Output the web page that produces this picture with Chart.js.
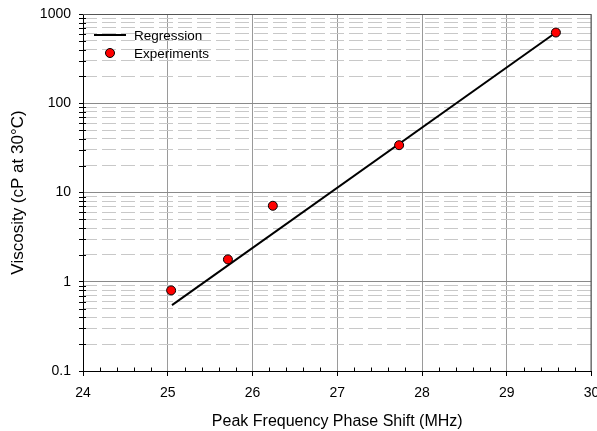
<!DOCTYPE html>
<html>
<head>
<meta charset="utf-8">
<script src="https://cdn.jsdelivr.net/npm/chart.js@4.4.1/dist/chart.umd.min.js"></script>
<style>
  html, body { margin: 0; padding: 0; background: #fff; }
  #wrap { width: 597px; height: 431px; }
</style>
</head>
<body>
<div id="wrap"><canvas id="chart" width="597" height="431"></canvas></div>
<script>
const expX = [25.04, 25.71, 26.24, 27.73, 29.58];
const expY = [0.80, 1.78, 7.1, 33.9, 620];

// regression line (straight on the log axis), its two ends
const regX = [25.05, 29.58];
const regY = [0.548, 620];

// axis ticks
const xTicks = [24, 25, 26, 27, 28, 29, 30];
const yTicks = [0.1, 1, 10, 100, 1000];
const yMinorSteps = [2, 3, 4, 5, 6, 7, 8, 9];

const legendLabels = ["Regression", "Experiments"];

Chart.defaults.font.family = '"Liberation Sans", Arial, sans-serif';
Chart.defaults.color = "#000";

const tickFont = { size: 14 };

// minor y values (2..9 in every decade), used by the dashed grid axis
function minorY() {
  const out = [];
  yTicks.slice(0, -1).forEach((d) => {
    yMinorSteps.forEach((m) => out.push({ value: d * m }));
  });
  return out;
}

// frame, small inner ticks and the legend box
const extras = {
  id: "extras",
  afterDraw(chart) {
    const { ctx, chartArea: a, scales } = chart;
    const x = scales.x;
    const y2 = scales.y2;
    ctx.save();

    // top / right frame
    ctx.strokeStyle = "#555";
    ctx.lineWidth = 1;
    ctx.beginPath();
    ctx.moveTo(a.left, a.top + 0.5);
    ctx.lineTo(a.right - 0.5, a.top + 0.5);
    ctx.lineTo(a.right - 0.5, a.bottom);
    ctx.stroke();

    // minor ticks on the y axis
    ctx.strokeStyle = "#000";
    ctx.beginPath();
    y2.ticks.forEach((t) => {
      const py = Math.round(y2.getPixelForValue(t.value)) + 0.5;
      ctx.moveTo(a.left - 4, py);
      ctx.lineTo(a.left + 3, py);
    });
    // minor ticks on the x axis, every 0.2
    for (let v = x.min; v < x.max; v += 0.2) {
      if (Math.abs(v - Math.round(v)) < 1e-6) continue;
      const px = Math.round(x.getPixelForValue(v)) + 0.5;
      ctx.moveTo(px, a.bottom);
      ctx.lineTo(px, a.bottom - 3.5);
    }
    ctx.stroke();

    // legend
    const reg = chart.data.datasets[0];
    const exp = chart.data.datasets[1];
    const lx = a.left + 11;
    const ly = a.top + 21;
    ctx.strokeStyle = reg.borderColor;
    ctx.lineWidth = reg.borderWidth;
    ctx.beginPath();
    ctx.moveTo(lx, ly);
    ctx.lineTo(lx + 32, ly);
    ctx.stroke();

    ctx.fillStyle = exp.backgroundColor;
    ctx.strokeStyle = exp.borderColor;
    ctx.lineWidth = exp.borderWidth;
    ctx.beginPath();
    ctx.arc(lx + 16, ly + 18, exp.pointRadius, 0, Math.PI * 2);
    ctx.fill();
    ctx.stroke();

    ctx.fillStyle = "#000";
    ctx.font = '13.5px "Liberation Sans", Arial, sans-serif';
    ctx.textBaseline = "middle";
    ctx.textAlign = "left";
    ctx.fillText(legendLabels[0], lx + 40, ly + 1);
    ctx.fillText(legendLabels[1], lx + 40, ly + 19);
    ctx.restore();
  },
};

new Chart(document.getElementById("chart"), {
  type: "scatter",
  data: {
    datasets: [
      {
        label: legendLabels[0],
        data: regX.map((v, i) => ({ x: v, y: regY[i] })),
        showLine: true,
        borderColor: "#000",
        borderWidth: 2,
        pointRadius: 0,
        order: 1,
      },
      {
        label: legendLabels[1],
        data: expX.map((v, i) => ({ x: v, y: expY[i] })),
        backgroundColor: "#ff0000",
        borderColor: "#000",
        borderWidth: 1,
        pointRadius: 4.5,
        order: 0,
      },
    ],
  },
  options: {
    responsive: false,
    animation: false,
    layout: { padding: { top: 14, right: 5, left: 0, bottom: 0 } },
    plugins: {
      legend: { display: false },
      tooltip: { enabled: false },
    },
    scales: {
      x: {
        type: "linear",
        min: 24,
        max: 30,
        afterBuildTicks: (s) => {
          s.ticks = xTicks.map((v) => ({ value: v }));
        },
        afterFit: (s) => {
          s.height = 60;
          s.paddingLeft = 0;
          s.paddingRight = 0;
        },
        ticks: { font: tickFont, padding: 9, maxRotation: 0, autoSkip: false },
        grid: { color: "#9a9a9a", tickLength: 5, tickColor: "#000" },
        border: { color: "#000", width: 1 },
        title: {
          display: true,
          text: "Peak Frequency Phase Shift (MHz)",
          font: { size: 16 },
          padding: { top: 0, bottom: 0 },
        },
      },
      y: {
        type: "logarithmic",
        position: "left",
        min: 0.1,
        max: 1000,
        afterBuildTicks: (s) => {
          s.ticks = yTicks.map((v) => ({ value: v }));
        },
        afterFit: (s) => {
          s.width = 83;
          s.paddingTop = 0;
          s.paddingBottom = 0;
        },
        ticks: { font: tickFont, padding: 8, callback: (v) => String(v) },
        grid: { color: "#8a8a8a", tickLength: 4, tickColor: "#000" },
        border: { color: "#000", width: 1 },
        title: {
          display: true,
          text: "Viscosity (cP at 30°C)",
          font: { size: 17 },
          padding: { top: 8, bottom: 0 },
        },
      },
      y2: {
        type: "logarithmic",
        position: "left",
        min: 0.1,
        max: 1000,
        afterBuildTicks: (s) => {
          s.ticks = minorY();
        },
        afterFit: (s) => {
          s.width = 0;
          s.paddingTop = 0;
          s.paddingBottom = 0;
        },
        ticks: { display: false },
        grid: { color: "#c8c8c8", drawTicks: false },
        border: { display: false, dash: [14, 5] },
      },
    },
  },
  plugins: [extras],
});
</script>
</body>
</html>
